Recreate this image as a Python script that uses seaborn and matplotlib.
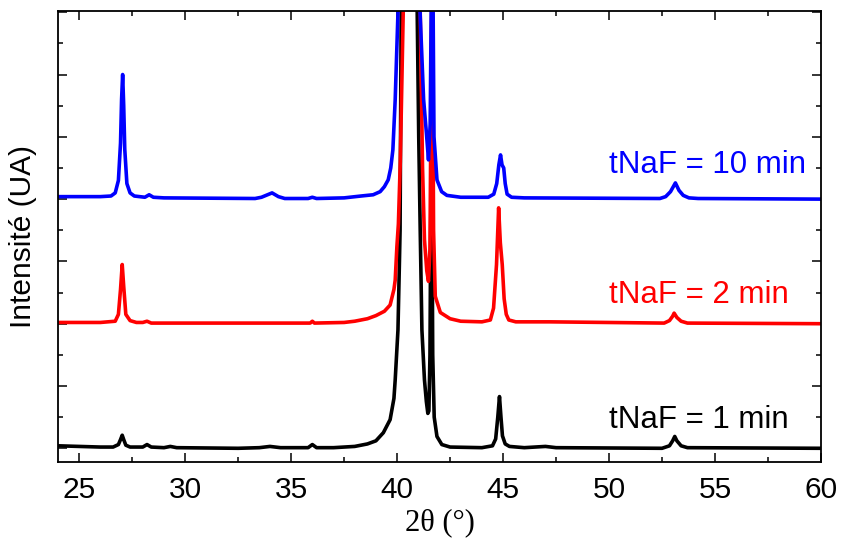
import matplotlib
matplotlib.use("Agg")
import matplotlib.pyplot as plt
import seaborn as sns
import pandas as pd
from matplotlib.ticker import MultipleLocator, NullFormatter

# ---- data (2theta in degrees, intensity above baseline, arb. units)
x_1min = [24.0, 25.0, 26.0, 26.6, 26.85, 26.95, 27.03, 27.1, 27.2, 27.4, 28.0, 28.2, 28.4,
          29.0, 29.3, 29.6, 32.5, 33.5, 34.0, 34.5, 35.8, 36.0, 36.2, 37.0, 38.0, 38.6,
          39.0, 39.35, 39.67, 39.85, 39.91, 40.04, 40.11, 40.14, 40.2, 40.55, 40.93, 41.02,
          41.09, 41.17, 41.29, 41.38, 41.45, 41.5, 41.55, 41.62, 41.68, 41.75, 41.88, 42.11,
          42.5, 44.0, 44.5, 44.65, 44.75, 44.83, 44.9, 44.97, 45.1, 45.3, 46.0, 47.0, 47.5,
          52.5, 52.85, 53.0, 53.1, 53.2, 53.4, 53.7, 60.0]
y_1min = [0.04, 0.03, 0.02, 0.02, 0.06, 0.14, 0.21, 0.14, 0.05, 0.02, 0.02, 0.06, 0.02,
          0.01, 0.03, 0.01, 0.0, 0.01, 0.03, 0.01, 0.01, 0.06, 0.01, 0.01, 0.03, 0.07,
          0.12, 0.25, 0.46, 0.8, 1.1, 1.9, 3.0, 3.5, 7.5, 12.0, 7.5, 5.0,
          3.5, 1.9, 1.1, 0.75, 0.56, 0.6, 1.5, 5.5, 1.5, 0.5, 0.19, 0.06,
          0.02, 0.01, 0.04, 0.15, 0.5, 0.83, 0.5, 0.2, 0.07, 0.03, 0.01, 0.03, 0.01,
          0.0, 0.04, 0.12, 0.19, 0.12, 0.04, 0.01, 0.0]

x_2min = [24.0, 26.0, 26.7, 26.85, 26.95, 27.03, 27.1, 27.2, 27.4, 27.7, 28.0, 28.2, 28.4,
          33.0, 35.9, 36.0, 36.1, 37.5, 38.0, 38.6, 39.0, 39.4, 39.67, 39.85, 39.91, 39.99,
          40.06, 40.15, 40.3, 40.6, 40.95, 41.09, 41.2, 41.29, 41.4, 41.48, 41.55, 41.65,
          41.72, 41.8, 42.04, 42.5, 43.0, 44.0, 44.4, 44.55, 44.69, 44.79, 44.87, 44.96,
          45.05, 45.15, 45.27, 45.6, 47.2, 52.6, 52.85, 53.0, 53.07, 53.2, 53.4, 53.7, 60.0]
y_2min = [0.02, 0.02, 0.04, 0.15, 0.55, 0.95, 0.6, 0.15, 0.05, 0.02, 0.02, 0.04, 0.01,
          0.01, 0.01, 0.04, 0.01, 0.02, 0.04, 0.08, 0.13, 0.2, 0.3, 0.55, 0.7, 1.24,
          1.6, 2.6, 5.2, 10.0, 7.0, 5.0, 2.5, 1.35, 0.85, 0.68, 1.2, 6.0,
          1.5, 0.44, 0.18, 0.08, 0.04, 0.03, 0.06, 0.25, 0.95, 1.86, 1.3, 0.95,
          0.4, 0.15, 0.06, 0.03, 0.03, 0.01, 0.05, 0.12, 0.17, 0.1, 0.04, 0.01, 0.0]

x_10min = [24.0, 25.0, 26.0, 26.5, 26.7, 26.85, 26.95, 27.0, 27.05, 27.1, 27.15, 27.25, 27.4,
           27.6, 28.1, 28.3, 28.5, 29.0, 33.3, 33.6, 34.1, 34.4, 34.7, 35.8, 36.0, 36.2,
           37.5, 38.3, 38.87, 39.2, 39.4, 39.58, 39.7, 39.8, 39.91, 40.06, 40.56, 41.06,
           41.25, 41.38, 41.48, 41.56, 41.66, 41.74, 41.88, 42.1, 42.35, 43.0, 44.3, 44.56,
           44.7, 44.8, 44.88, 44.95, 45.03, 45.1, 45.19, 45.4, 46.0, 52.4, 52.67, 52.9,
           53.13, 53.3, 53.5, 53.77, 54.2, 60.0]
y_10min = [0.04, 0.04, 0.04, 0.05, 0.1, 0.3, 0.9, 1.6, 2.0, 1.5, 0.8, 0.25, 0.1,
           0.05, 0.03, 0.07, 0.03, 0.02, 0.01, 0.03, 0.1, 0.04, 0.01, 0.01, 0.03, 0.01,
           0.02, 0.05, 0.07, 0.12, 0.2, 0.31, 0.5, 0.79, 1.6, 3.2, 6.0, 3.2,
           1.6, 1.07, 0.63, 1.2, 5.0, 1.0, 0.31, 0.12, 0.06, 0.03, 0.03, 0.08,
           0.25, 0.55, 0.71, 0.55, 0.5, 0.25, 0.08, 0.03, 0.02, 0.01, 0.04, 0.12,
           0.26, 0.14, 0.06, 0.02, 0.01, 0.0]

labels = ["tNaF = 1 min", "tNaF = 2 min", "tNaF = 10 min"]
offsets = [0.0, 2.0, 4.0]
label_y = [0.33, 2.33, 4.42]
colors = ["#000000", "#FF0000", "#0000FF"]
xs = [x_1min, x_2min, x_10min]
ys = [y_1min, y_2min, y_10min]

sns.set_theme(style="ticks")
plt.rcParams["font.family"] = ["Liberation Sans", "DejaVu Sans"]
plt.rcParams["text.color"] = "black"
plt.rcParams["axes.labelcolor"] = "black"

fig = plt.figure(figsize=(8.41, 5.41), dpi=100)
ax = fig.add_axes([58 / 841, 79 / 541, 763 / 841, 451 / 541])

for xv, yv, off, ly, col, lab in zip(xs, ys, offsets, label_y, colors, labels):
    df = pd.DataFrame({"two_theta": xv, "intensity": [v + off for v in yv]})
    sns.lineplot(data=df, x="two_theta", y="intensity", color=col, lw=2.6,
                 ax=ax, estimator=None, sort=True)
    ax.text(50.0, ly, lab, color=col, fontsize=22.5, va="baseline", ha="left")

ax.set_xlim(24, 60)
ax.set_ylim(-0.22, 7.02)
ax.xaxis.set_major_locator(MultipleLocator(5))
ax.xaxis.set_minor_locator(MultipleLocator(2.5))
ax.yaxis.set_major_locator(MultipleLocator(1))
ax.yaxis.set_minor_locator(MultipleLocator(0.5))
ax.yaxis.set_major_formatter(NullFormatter())
ax.tick_params(which="both", direction="in", top=True, right=True, width=1.1,
               colors="black", labelcolor="black")
ax.tick_params(which="major", length=6.5, labelsize=21.5, pad=10)
ax.tick_params(which="minor", length=3.5)
for s in ax.spines.values():
    s.set_linewidth(1.3)
    s.set_color("black")
    s.set_visible(True)

ax.set_xlabel("2θ (°)", fontsize=22, family=["Liberation Serif", "DejaVu Serif"],
              labelpad=3, color="black")
ax.set_ylabel("Intensité (UA)", fontsize=21.5, labelpad=5, color="black")

fig.savefig("out.png", dpi=100)
